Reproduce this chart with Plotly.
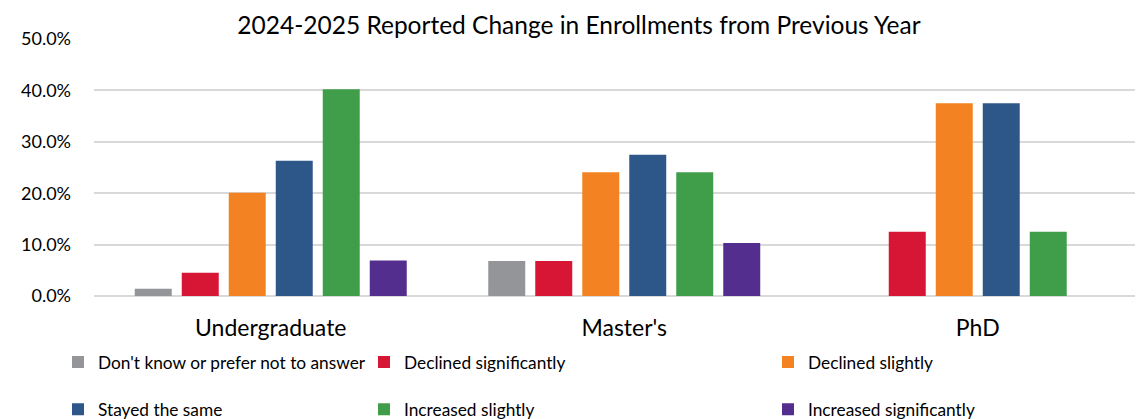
import plotly.graph_objects as go

categories = ["Undergraduate", "Master's", "PhD"]
series_names = [
    "Don't know or prefer not to answer",
    "Declined significantly",
    "Declined slightly",
    "Stayed the same",
    "Increased slightly",
    "Increased significantly",
]
dont_know = [0.014, 0.068, 0.0]
declined_sig = [0.045, 0.068, 0.125]
declined_slight = [0.201, 0.241, 0.375]
stayed_same = [0.263, 0.275, 0.375]
increased_slight = [0.402, 0.241, 0.125]
increased_sig = [0.069, 0.103, 0.0]
colors = ["#939598", "#d71635", "#f38322", "#2d5789", "#409e4a", "#542e8f"]

values = [dont_know, declined_sig, declined_slight, stayed_same, increased_slight, increased_sig]

FONT = "Lato"
OFF = 8  # page body margin
W, H = 1143 - OFF, 419 - OFF
plot_left = 94 - OFF
plot_top, plot_bottom = 39 - OFF, 295.7 - OFF
plot_h = plot_bottom - plot_top

def py(pix):
    return (plot_bottom - (pix - OFF)) / plot_h

def px(pix):
    return ((pix - OFF) - plot_left) / (W - plot_left)

legend_text_x = [98, 404, 808]
legend_rows = [362, 409]

fig = go.Figure()
layout_legends = {}
for i, (name, vals, col) in enumerate(zip(series_names, values, colors)):
    lname = "legend" if i == 0 else f"legend{i+1}"
    fig.add_trace(go.Bar(
        x=categories, y=vals, name=name, marker_color=col,
        marker_line_width=0, legend=lname,
    ))
    colx = legend_text_x[i % 3]
    rowy = legend_rows[i // 3]
    layout_legends[lname] = dict(
        x=px(colx - 40), xanchor="left",
        y=py(rowy), yanchor="middle",
        font=dict(family=FONT, size=17.3, color="#000000"),
        bgcolor="rgba(0,0,0,0)", borderwidth=0,
    )

fig.update_layout(
    width=W, height=H,
    margin=dict(l=plot_left, r=0, t=plot_top, b=H - plot_bottom, pad=0, autoexpand=False),
    paper_bgcolor="white", plot_bgcolor="white",
    barmode="group", bargap=0.2023, bargroupgap=0.213,
    title=dict(
        text="2024-2025 Reported Change in Enrollments from Previous Year",
        x=(579 - OFF) / W, xanchor="center", y=1 - (25 - OFF) / H, yanchor="middle",
        xref="container", yref="container",
        font=dict(family=FONT, size=24.5, color="#000000"),
    ),
    font=dict(family=FONT, color="#000000"),
    showlegend=True,
    **layout_legends,
)
fig.update_xaxes(
    range=[-0.5, -0.5 + (W - plot_left) / 353.5],
    showgrid=False, showline=False, ticks="",
    tickfont=dict(family=FONT, size=23, color="#000000"),
    ticklabelstandoff=16,
)
fig.update_yaxes(
    range=[0, 0.5], dtick=0.1, tickformat=".1%",
    showgrid=True, gridcolor="#d9d9d9", gridwidth=2,
    zeroline=True, zerolinecolor="#d9d9d9", zerolinewidth=2,
    showline=False, ticks="",
    tickfont=dict(family=FONT, size=18, color="#000000"),
    ticklabelstandoff=22,
)
fig.write_html("out.html")
